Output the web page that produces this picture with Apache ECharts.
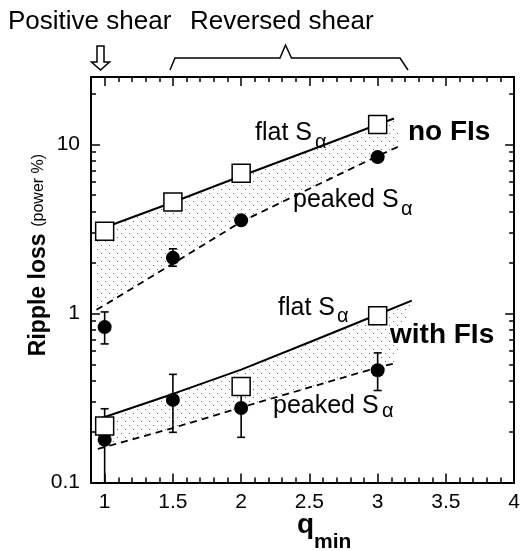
<!DOCTYPE html>
<html><head><meta charset="utf-8">
<script src="https://cdn.jsdelivr.net/npm/echarts@6/dist/echarts.min.js"></script>
<style>html,body{margin:0;padding:0;background:#fff}#c{width:523px;height:551px}</style>
</head><body><div id="c"></div>
<script>
// ---- data ----
const qMarks = [1, 1.5, 2, 3];
const noFIsFlat = [3.06, 4.56, 6.74, 13.1];
const noFIsPeaked = [0.83, 2.13, 3.55, 8.4];
const noFIsPeakedLow = [0.66, 1.9, null, null];
const noFIsPeakedHigh = [1.02, 2.41, null, null];
const withFIsFlatQ = [1, 2, 3];
const withFIsFlat = [0.216, 0.369, 0.97];
const withFIsPeaked = [0.179, 0.308, 0.276, 0.461];
const withFIsPeakedLow = [0.1, 0.198, 0.185, 0.35];
const withFIsPeakedHigh = [0.273, 0.436, 0.40, 0.584];

const qModelNoFIsFlat = [0.94, 1, 1.5, 2, 2.5, 3, 3.12];
const modelNoFIsFlat = [3.11, 3.22, 4.54, 6.49, 9.19, 13.1, 14.2];
const qModelNoFIsPeaked = [0.94, 1, 1.5, 2, 2.5, 3, 3.17];
const modelNoFIsPeaked = [1.05, 1.12, 1.97, 3.48, 5.46, 8.53, 9.84];
const qModelWithFIsFlat = [0.95, 1, 1.5, 2, 2.5, 3, 3.25];
const modelWithFIsFlat = [0.237, 0.244, 0.334, 0.465, 0.675, 0.985, 1.19];
const qModelWithFIsPeaked = [0.95, 1, 1.5, 2, 2.5, 3, 3.12];
const modelWithFIsPeaked = [0.158, 0.162, 0.21, 0.278, 0.365, 0.479, 0.505];

const xMajorTicks = [1, 1.5, 2, 2.5, 3, 3.5, 4];
const xMinorTicks = [1.1, 1.2, 1.3, 1.4, 1.6, 1.7, 1.8, 1.9, 2.1, 2.2, 2.3, 2.4, 2.6, 2.7, 2.8, 2.9, 3.1, 3.2, 3.3, 3.4, 3.6, 3.7, 3.8, 3.9];
const yMajorTicks = [0.1, 1, 10];
const yMinorTicks = [0.2, 0.3, 0.4, 0.5, 0.6, 0.7, 0.8, 0.9, 2, 3, 4, 5, 6, 7, 8, 9, 20];

// ---- helpers ----
const zip = (xs, ys) => xs.map((x, i) => [x, ys[i]]);
const FONT = '"Liberation Sans", Arial, Helvetica, sans-serif';
const pc = document.createElement('canvas'); pc.width = 8; pc.height = 8;
const g = pc.getContext('2d'); g.fillStyle = '#6a6a6a';
g.fillRect(1, 1, 1, 1); g.fillRect(5, 5, 1, 1);
const pattern = { type: 'pattern', image: pc, repeat: 'repeat' };

const X_MIN = 0.9, X_MAX = 4, Y_MIN = 0.1, Y_MAX = 25;

function xAx(pos, ticks, len, showLine, showLabel) {
  return {
    type: 'value', position: pos, min: X_MIN, max: X_MAX,
    axisLine: { show: showLine, onZero: false, lineStyle: { color: '#000', width: 2 } },
    axisTick: { show: true, inside: true, length: len, customValues: ticks, lineStyle: { color: '#000', width: 1.5 } },
    axisLabel: { show: showLabel, customValues: ticks, margin: 9, color: '#000', fontSize: 21, fontFamily: FONT },
    splitLine: { show: false }
  };
}
function yAx(pos, ticks, len, showLine, showLabel) {
  return {
    type: 'log', logBase: 10, position: pos, min: Y_MIN, max: Y_MAX,
    axisLine: { show: showLine, onZero: false, lineStyle: { color: '#000', width: 2 } },
    axisTick: { show: true, inside: true, length: len, customValues: ticks, lineStyle: { color: '#000', width: 1.5 } },
    axisLabel: { show: showLabel, customValues: ticks, margin: 11, color: '#000', fontSize: 21, fontFamily: FONT,
      formatter: v => String(+Number(v).toPrecision(6)) },
    splitLine: { show: false }
  };
}

function band(qTop, vTop, qBot, vBot) {
  return {
    type: 'custom', xAxisIndex: 0, yAxisIndex: 0, silent: true, z: 1,
    data: [[qTop[0], vTop[0]]],
    renderItem: (params, api) => {
      const pts = qTop.map((q, i) => api.coord([q, vTop[i]]));
      for (let i = qBot.length - 1; i >= 0; i--) pts.push(api.coord([qBot[i], vBot[i]]));
      return { type: 'polygon', shape: { points: pts }, style: { fill: pattern, stroke: null } };
    }
  };
}
function line(qs, vs, dashed) {
  return {
    type: 'line', data: zip(qs, vs), symbol: 'none', silent: true, z: 2,
    lineStyle: { color: '#000', width: dashed ? 1.8 : 2, type: dashed ? [7, 5] : 'solid' }
  };
}
function errBars(qs, lows, highs) {
  const data = [];
  qs.forEach((q, i) => { if (lows[i] != null) data.push([q, lows[i], highs[i]]); });
  return {
    type: 'custom', data, encode: { x: 0, y: [1, 2] }, z: 3, silent: true,
    renderItem: (params, api) => {
      const x = api.value(0);
      const lo = api.coord([x, api.value(1)]);
      const hi = api.coord([x, api.value(2)]);
      const w = 4, st = { stroke: '#000', lineWidth: 1.6 };
      const ch = [
        { type: 'line', shape: { x1: lo[0], y1: lo[1], x2: hi[0], y2: hi[1] }, style: st },
        { type: 'line', shape: { x1: hi[0] - w, y1: hi[1], x2: hi[0] + w, y2: hi[1] }, style: st }
      ];
      if (api.value(1) > Y_MIN) ch.push({ type: 'line', shape: { x1: lo[0] - w, y1: lo[1], x2: lo[0] + w, y2: lo[1] }, style: st });
      return { type: 'group', children: ch };
    }
  };
}
function circles(qs, vs) {
  return { type: 'scatter', data: zip(qs, vs), symbol: 'circle', symbolSize: 14, z: 4, silent: true,
    itemStyle: { color: '#000', opacity: 1 } };
}
function squares(qs, vs) {
  return { type: 'scatter', data: zip(qs, vs), symbol: 'rect', symbolSize: 18, z: 5, silent: true,
    itemStyle: { color: '#fff', borderColor: '#000', borderWidth: 1.5, opacity: 1 } };
}
function txt(x, y, text, size, bold, extra) {
  return Object.assign({ type: 'text', x, y, silent: true, z: 10,
    style: { text, font: (bold ? 'bold ' : '') + size + 'px ' + FONT, fill: '#000',
      textAlign: 'left', textVerticalAlign: 'middle' } }, extra || {});
}

const chart = echarts.init(document.getElementById('c'), null, { renderer: 'canvas' });
chart.setOption({
  animation: false,
  backgroundColor: '#fff',
  grid: { left: 91, right: 2.5, top: 77, bottom: 68.5, containLabel: false },
  xAxis: [
    xAx('bottom', xMajorTicks, 9, true, true),
    xAx('bottom', xMinorTicks, 5, false, false),
    xAx('top', xMajorTicks, 9, true, false),
    xAx('top', xMinorTicks, 5, false, false)
  ],
  yAxis: [
    yAx('left', yMajorTicks, 9, true, true),
    yAx('left', yMinorTicks, 5, false, false),
    yAx('right', yMajorTicks, 9, true, false),
    yAx('right', yMinorTicks, 5, false, false)
  ],
  series: [
    band(qModelNoFIsFlat, modelNoFIsFlat, qModelNoFIsPeaked, modelNoFIsPeaked),
    band(qModelWithFIsFlat, modelWithFIsFlat, qModelWithFIsPeaked, modelWithFIsPeaked),
    line(qModelNoFIsFlat, modelNoFIsFlat, false),
    line(qModelNoFIsPeaked, modelNoFIsPeaked, true),
    line(qModelWithFIsFlat, modelWithFIsFlat, false),
    line(qModelWithFIsPeaked, modelWithFIsPeaked, true),
    errBars(qMarks, noFIsPeakedLow, noFIsPeakedHigh),
    errBars(qMarks, withFIsPeakedLow, withFIsPeakedHigh),
    circles(qMarks, noFIsPeaked),
    circles(qMarks, withFIsPeaked),
    squares(qMarks, noFIsFlat),
    squares(withFIsFlatQ, withFIsFlat)
  ],
  graphic: [
    txt(8, 22, 'Positive shear', 26, false),
    txt(190, 22, 'Reversed shear', 26, false),
    { type: 'polygon', silent: true, shape: { points: [[97, 46], [104, 46], [104, 62], [109.5, 62], [100.5, 70], [91.5, 62], [97, 62]] },
      style: { fill: '#fff', stroke: '#000', lineWidth: 1.5 } },
    { type: 'polyline', silent: true, shape: { points: [[170, 70], [175, 58], [280, 58], [285.5, 45], [291.5, 58], [400, 58], [408, 70]] },
      style: { fill: null, stroke: '#000', lineWidth: 1.5 } },
    txt(255, 133, 'flat S', 25, false),
    txt(315, 142, 'α', 20, false),
    txt(408, 132, 'no FIs', 28, true),
    txt(293, 200, 'peaked S', 25, false),
    txt(401, 209, 'α', 20, false),
    txt(278, 308, 'flat S', 25, false),
    txt(337, 316, 'α', 20, false),
    txt(390, 335, 'with FIs', 28, true),
    txt(273, 406.5, 'peaked S', 25, false),
    txt(382, 411.5, 'α', 20, false),
    { type: 'text', x: 39, y: 255, rotation: Math.PI / 2, silent: true, z: 10,
      style: { text: '{b|Ripple loss}  {n|(power %)}', textAlign: 'center', textVerticalAlign: 'middle',
        rich: { b: { font: 'bold 23px ' + FONT, fill: '#000' }, n: { font: '16px ' + FONT, fill: '#000' } } } },
    txt(297, 525, 'q', 28, true),
    txt(314, 542, 'min', 21, true)
  ]
});
</script></body></html>
